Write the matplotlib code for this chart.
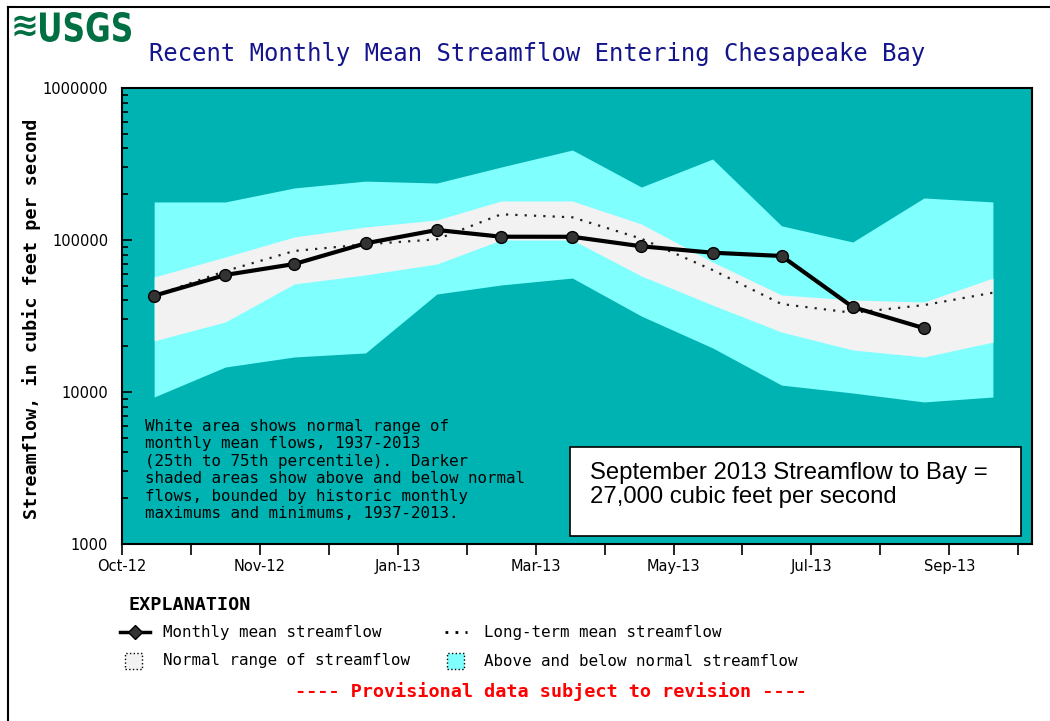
import pandas as pd
import matplotlib
matplotlib.use('Agg')
import matplotlib.pyplot as plt
import matplotlib.dates as mdates
from matplotlib.lines import Line2D
from matplotlib.patches import Rectangle, PathPatch
from matplotlib.textpath import TextPath
from matplotlib.font_manager import FontProperties
from matplotlib.transforms import Affine2D
from datetime import datetime, timedelta

# monthly values, Oct-2012 .. Oct-2013 (cubic feet per second)
months = pd.date_range('2012-10-01', periods=13, freq='MS') + pd.Timedelta(days=14)
months = list(months.to_pydatetime())

monthly_mean = [43000, 58900, 69500, 95100, 116400, 105100, 105000, 90900, 82500, 78500, 36200, 26300]
longterm_mean = [43000, 62500, 84700, 93700, 101000, 147600, 141000, 102000, 63500, 37900, 33200, 37300, 45000]
hist_max = [178000, 178000, 220000, 244000, 237000, 302000, 391000, 223000, 341000, 124000, 97000, 189000, 178000]
pct75 = [57100, 77300, 104700, 121800, 135400, 180500, 180500, 127500, 71700, 43500, 40300, 39100, 56200]
pct25 = [21700, 28900, 51400, 58900, 69500, 100000, 100000, 58000, 37300, 24800, 18900, 17000, 21300]
hist_min = [9270, 14600, 17000, 18070, 44100, 50600, 56200, 31600, 19500, 11100, 9850, 8600, 9270]

ytick_vals = [1000, 10000, 100000, 1000000]

W, H = 1050, 721


def fx(px):
    return px / W


def fy(py):
    return 1 - py / H


mono = 'DejaVu Sans Mono'
green = '#006F41'

fig = plt.figure(figsize=(W / 100, H / 100), dpi=100)
ax = fig.add_axes([fx(122), fy(544), fx(1032) - fx(122), fy(88) - fy(544)])
ax.set_facecolor('#00B3B3')

# shaded ranges
ax.fill_between(months, hist_min, hist_max, color='#80FFFF', lw=0)
ax.fill_between(months, pct25, pct75, color='#F2F2F2', lw=0)

# long-term mean and monthly mean
ax.plot(months, longterm_mean, color='#222222', lw=1.6, linestyle=(0, (1, 3.2)))
ax.plot(months[:len(monthly_mean)], monthly_mean, color='black', lw=3,
        marker='o', markersize=8.5, markerfacecolor='#333333', markeredgecolor='black',
        markeredgewidth=1)

# axes
ax.set_yscale('log')
ax.set_ylim(1000, 1000000)
ax.set_yticks(ytick_vals)
ax.set_yticklabels([str(v) for v in ytick_vals])
ax.tick_params(axis='y', which='major', direction='in', length=7, width=1.2, pad=10,
               labelsize=10.5)
ax.tick_params(axis='y', which='minor', direction='in', length=4, width=1.2)

start = datetime(2012, 10, 1)
ax.set_xlim(start, start + timedelta(days=396))
ax.set_xticks([start + timedelta(days=60 * k) for k in range(7)])
ax.set_xticks([start + timedelta(days=30 + 60 * k) for k in range(7)], minor=True)
ax.xaxis.set_major_formatter(mdates.DateFormatter('%b-%y'))
ax.tick_params(axis='x', which='both', direction='out', length=8, width=1.2, pad=3,
               labelsize=10.5)
for s in ax.spines.values():
    s.set_linewidth(1.5)
    s.set_color('black')

# note inside plot
note = ("White area shows normal range of\n"
        "monthly mean flows, 1937-2013\n"
        "(25th to 75th percentile).  Darker\n"
        "shaded areas show above and below normal\n"
        "flows, bounded by historic monthly\n"
        "maximums and minimums, 1937-2013.")
fig.text(fx(145), fy(419), note, family=mono, fontsize=11.4, va='top', ha='left',
         linespacing=1.2, color='black')

# September box
box = Rectangle((fx(570), fy(536)), fx(1021) - fx(570), fy(447) - fy(536),
                transform=fig.transFigure, facecolor='white', edgecolor='black', lw=1.2,
                zorder=5)
fig.add_artist(box)
fig.text(fx(590), fy(485), 'September 2013 Streamflow to Bay =\n27,000 cubic feet per second',
         family='Liberation Sans', fontsize=17.2, va='center', ha='left',
         linespacing=1.13, zorder=6)

# title, y label
fig.text(fx(537), fy(54), 'Recent Monthly Mean Streamflow Entering Chesapeake Bay',
         family=mono, fontsize=17.2, color='#14148C', ha='center', va='center')
fig.text(fx(32), fy(319), 'Streamflow, in cubic feet per second', family=mono,
         fontsize=13.2, fontweight='bold', rotation=90, ha='center', va='center')

# logo: waves + condensed "USGS" fitted into its box
fig.text(fx(11), fy(26), '\u224b', family=['DejaVu Sans'], fontsize=24, fontweight='bold',
         color=green, ha='left', va='center')
tp = TextPath((0, 0), 'USGS', size=1, prop=FontProperties(family='DejaVu Sans', weight='bold'))
ext = tp.get_extents()
logo_tr = (Affine2D().translate(-ext.x0, -ext.y0)
           .scale((fx(131) - fx(40)) / ext.width, (fy(12) - fy(42)) / ext.height)
           .translate(fx(40), fy(42)) + fig.transFigure)
fig.add_artist(PathPatch(tp, transform=logo_tr, facecolor=green, edgecolor='none'))

# frame lines of the page
fig.add_artist(Line2D([fx(8), fx(8)], [0, fy(7)], color='black', lw=1.5))
fig.add_artist(Line2D([fx(8), 1], [fy(7), fy(7)], color='black', lw=1.5))

# explanation
fig.text(fx(128), fy(605), 'EXPLANATION', family=mono, fontsize=13.2, fontweight='bold',
         va='center', ha='left')
fig.add_artist(Line2D([fx(120), fx(135), fx(150)], [fy(632)] * 3, color='black', lw=2.5,
                      marker='D', markevery=[1], markersize=7, markerfacecolor='#333333'))
fig.text(fx(163), fy(632), 'Monthly mean streamflow', family=mono, fontsize=11.4,
         va='center', ha='left')
fig.add_artist(Line2D([fx(445), fx(467)], [fy(632)] * 2, color='black', lw=2,
                      linestyle=(0, (1, 2.6))))
fig.text(fx(484), fy(632), 'Long-term mean streamflow', family=mono, fontsize=11.4,
         va='center', ha='left')
fig.add_artist(Rectangle((fx(125), fy(669)), fx(142) - fx(125), fy(653) - fy(669),
                         transform=fig.transFigure, facecolor='#F2F2F2', edgecolor='black',
                         lw=1, linestyle=':'))
fig.text(fx(163), fy(661), 'Normal range of streamflow', family=mono, fontsize=11.4,
         va='center', ha='left')
fig.add_artist(Rectangle((fx(447), fy(669)), fx(464) - fx(447), fy(653) - fy(669),
                         transform=fig.transFigure, facecolor='#80FFFF', edgecolor='black',
                         lw=1, linestyle=':'))
fig.text(fx(484), fy(661), 'Above and below normal streamflow', family=mono, fontsize=11.4,
         va='center', ha='left')
fig.text(fx(551), fy(692), '---- Provisional data subject to revision ----', family=mono,
         fontsize=13.3, fontweight='bold', color='#FF0000', va='center', ha='center')

fig.savefig('out.png', dpi=100)
